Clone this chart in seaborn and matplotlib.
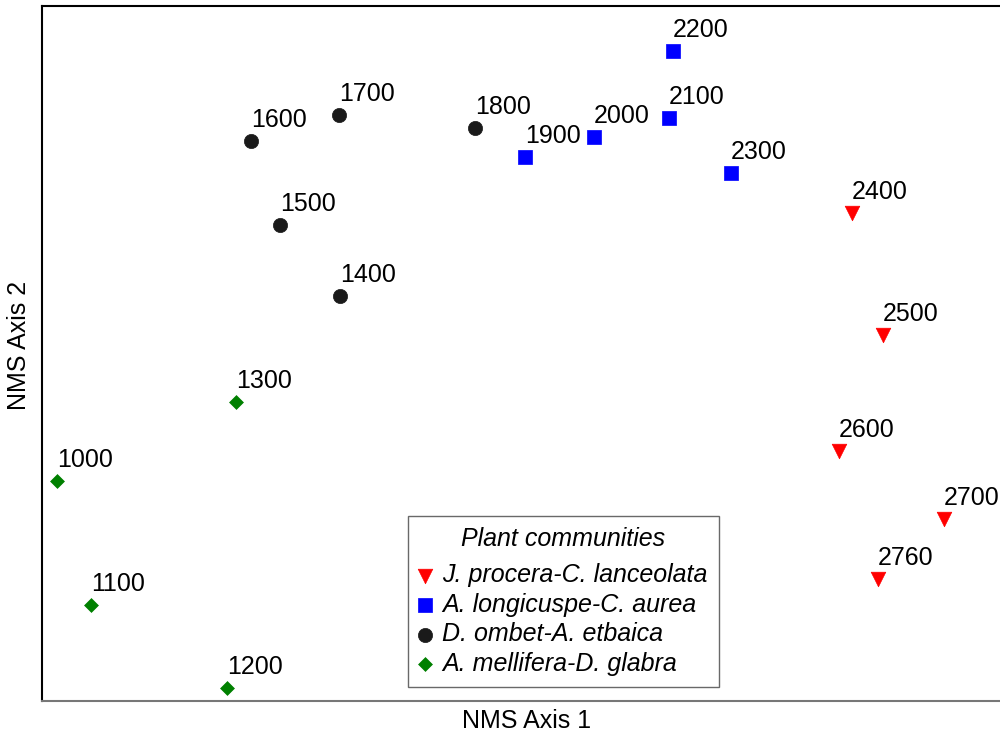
import numpy as np
import pandas as pd
import seaborn as sns
import matplotlib.pyplot as plt

# NMS ordination scores of the sample plots, labelled by altitude (m)
altitude = [1000, 1100, 1200, 1300,
            1400, 1500, 1600, 1700, 1800,
            1900, 2000, 2100, 2200, 2300,
            2400, 2500, 2600, 2700, 2760]
axis1 = [-1.547, -1.433, -0.980, -0.950,
         -0.603, -0.803, -0.900, -0.607, -0.153,
         0.013, 0.243, 0.493, 0.507, 0.700,
         1.103, 1.207, 1.060, 1.410, 1.190]
axis2 = [-0.423, -0.837, -1.113, -0.160,
         0.193, 0.430, 0.710, 0.797, 0.753,
         0.657, 0.723, 0.787, 1.010, 0.603,
         0.470, 0.063, -0.323, -0.550, -0.750]
community = (["A. mellifera-D. glabra"] * 4
             + ["D. ombet-A. etbaica"] * 5
             + ["A. longicuspe-C. aurea"] * 5
             + ["J. procera-C. lanceolata"] * 5)

groups = ["J. procera-C. lanceolata", "A. longicuspe-C. aurea",
          "D. ombet-A. etbaica", "A. mellifera-D. glabra"]
colors = ["#ff0000", "#0000ff", "#1a1a1a", "#008000"]
markers = ["v", "s", "o", "D"]
sizes = [110, 105, 105, 50]

df = pd.DataFrame({"altitude": altitude, "axis1": axis1,
                   "axis2": axis2, "community": community})

sns.set_theme(style="white")
plt.rcParams["font.family"] = ["Liberation Sans", "DejaVu Sans"]
plt.rcParams["text.color"] = "black"
plt.rcParams["axes.labelcolor"] = "black"

fig = plt.figure(figsize=(10, 7.38), dpi=100)
ax = fig.add_axes([0.042, 0.0501, 0.958, 0.9418])

for grp, col, mk, sz in zip(groups, colors, markers, sizes):
    sub = df[df["community"] == grp]
    sns.scatterplot(data=sub, x="axis1", y="axis2", ax=ax, color=col,
                    marker=mk, s=sz, edgecolor=col, linewidth=0.5,
                    label=grp, zorder=3)

for _, row in df.iterrows():
    ax.annotate(str(row["altitude"]), (row["axis1"], row["axis2"]),
                xytext=(0, 10), textcoords="offset points",
                ha="left", va="baseline", fontsize=18, color="black")

ax.set_xlim(-1.597, 1.597)
ax.set_ylim(-1.157, 1.16)
ax.set_xticks([])
ax.set_yticks([])
ax.set_xlabel("NMS Axis 1", fontsize=18)
ax.set_ylabel("NMS Axis 2", fontsize=18)
ax.xaxis.set_label_coords(0.506, -0.012)
ax.yaxis.set_label_coords(-0.012, 0.512)

ax.spines["right"].set_visible(False)
ax.spines["top"].set_color("black")
ax.spines["left"].set_color("black")
ax.spines["bottom"].set_color("#777777")
for side in ["top", "left", "bottom"]:
    ax.spines[side].set_linewidth(1.5)

leg = ax.legend(title="Plant communities", loc="lower left",
                bbox_to_anchor=(0.382, 0.02), frameon=True, fancybox=False,
                prop={"style": "italic", "size": 18},
                title_fontproperties={"style": "italic", "size": 18},
                handletextpad=0.42, handlelength=0.5, labelspacing=0.22,
                borderpad=0.45, borderaxespad=0)
leg._legend_box.sep = 9
leg.get_frame().set_edgecolor("#444444")
leg.get_frame().set_linewidth(1.0)
for t in leg.get_texts():
    t.set_color("black")
leg.get_title().set_color("black")

plt.savefig("out.png", dpi=100)
